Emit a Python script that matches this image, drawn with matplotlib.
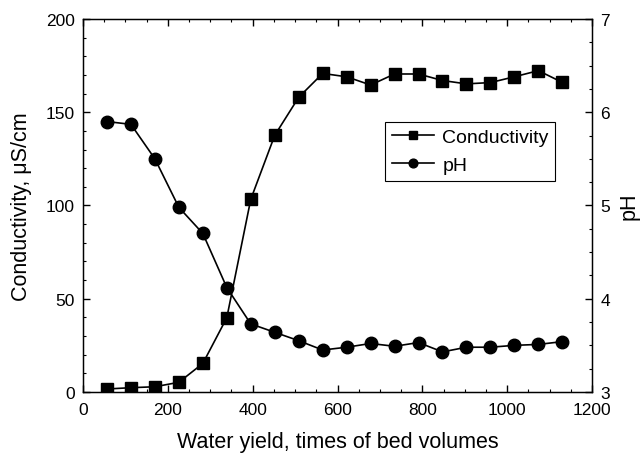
import matplotlib.pyplot as plt
from matplotlib.ticker import MultipleLocator

plt.rcParams["font.family"] = ["Liberation Sans", "DejaVu Sans"]

# ============================================================
# DATI
# ============================================================

water_yield = [56.5, 113, 169.5, 226, 282.5, 339, 395.5, 452, 508.5, 565,
               621.5, 678, 734.5, 791, 847.5, 904, 960.5, 1017, 1073.5, 1130]

conductivity = [1.6, 2.3, 2.8, 5.2, 15.3, 39.8, 103.3, 137.6, 158.0, 170.8,
                169.0, 164.6, 170.5, 170.5, 167.0, 165.2, 165.9, 169.0, 172.3, 166.0]

ph = [5.90, 5.87, 5.50, 4.98, 4.70, 4.12, 3.73, 3.64, 3.55, 3.45,
      3.48, 3.52, 3.49, 3.53, 3.43, 3.48, 3.48, 3.50, 3.51, 3.54]


# ============================================================
# GRAFICO
# ============================================================

fig = plt.figure(figsize=(6.4, 4.56), dpi=100)
ax = fig.add_axes([0.1297, 0.1382, 0.7953, 0.818])
ax2 = ax.twinx()

line_c, = ax.plot(
    water_yield, conductivity,
    color="black", linewidth=1.2,
    marker="s", markersize=8,
    label="Conductivity",
)

line_p, = ax2.plot(
    water_yield, ph,
    color="black", linewidth=1.2,
    marker="o", markersize=9,
    label="pH",
)

ax.set_xlim(0, 1200)
ax.set_ylim(0, 200)
ax2.set_ylim(3, 7)

ax.xaxis.set_major_locator(MultipleLocator(200))
ax.xaxis.set_minor_locator(MultipleLocator(50))
ax.yaxis.set_major_locator(MultipleLocator(50))
ax.yaxis.set_minor_locator(MultipleLocator(10))
ax2.yaxis.set_major_locator(MultipleLocator(1))
ax2.yaxis.set_minor_locator(MultipleLocator(0.25))

ax.tick_params(axis="x", which="both", direction="in", top=True,
               labelsize=12.5, pad=7)
ax.tick_params(axis="y", which="both", direction="in",
               labelsize=12.5, pad=6)
ax2.tick_params(axis="y", which="both", direction="in",
                labelsize=12.5, pad=6)
for a in (ax, ax2):
    a.tick_params(which="major", length=5, width=1)
    a.tick_params(which="minor", length=2.5, width=0.8)

for spine in ax2.spines.values():
    spine.set_linewidth(1)

ax.set_xlabel("Water yield, times of bed volumes", fontsize=15.5, labelpad=10)
ax.set_ylabel("Conductivity, μS/cm", fontsize=15.5, labelpad=10)
ax2.set_ylabel("pH", fontsize=15.5, labelpad=6)

legend = ax2.legend(
    handles=[line_c, line_p],
    loc="upper left",
    bbox_to_anchor=(0.593, 0.725),
    borderaxespad=0,
    borderpad=0.35,
    fancybox=False,
    edgecolor="black",
    framealpha=1,
    fontsize=14,
    handlelength=2.2,
    handletextpad=0.4,
    labelspacing=0.55,
    numpoints=1,
    markerscale=0.7,
)
legend.get_frame().set_linewidth(0.8)

plt.savefig("out.png", dpi=100)
plt.close()
